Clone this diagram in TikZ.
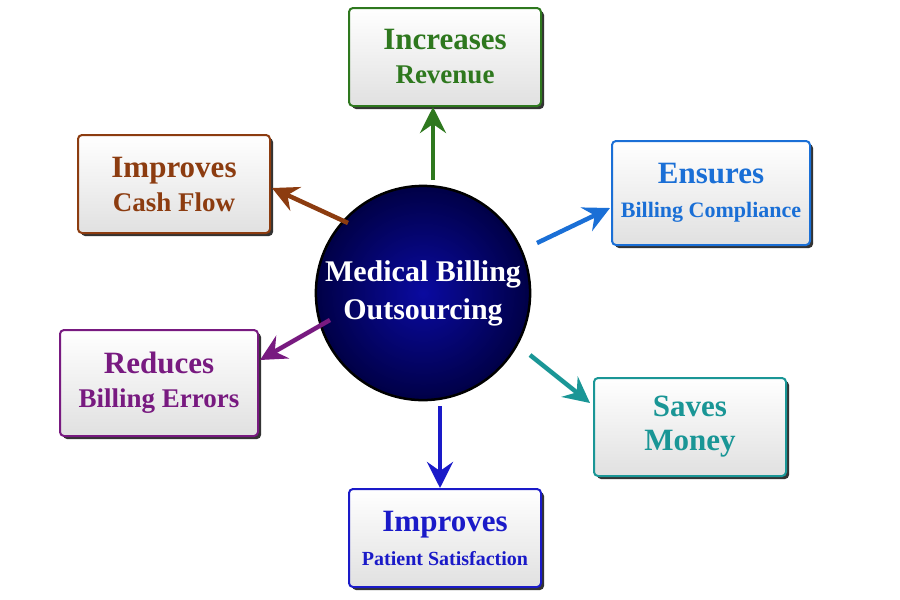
\documentclass[tikz,border=0pt]{standalone}
\usepackage{fontspec}
\setmainfont{Liberation Serif}
\usetikzlibrary{arrows.meta,shadows}
\definecolor{cg}{RGB}{46,120,30}
\definecolor{cbr}{RGB}{140,60,16}
\definecolor{cbl}{RGB}{26,111,214}
\definecolor{ct}{RGB}{26,150,150}
\definecolor{cb2}{RGB}{26,26,200}
\definecolor{cp}{RGB}{120,26,128}
\tikzset{
 box/.style={draw=#1, line width=2pt, rounded corners=4pt, minimum width=192pt, minimum height=98pt,
   top color=white, bottom color=black!12, text=#1, align=center, font=\bfseries\fontsize{31}{34}\selectfont,
   drop shadow={shadow xshift=3pt, shadow yshift=-3pt, fill=black!80, opacity=1}},
 arr/.style={draw=#1, line width=4.5pt, -{Stealth[length=26pt,width=26pt,inset=9pt]}}
}
\begin{document}
\begin{tikzpicture}[x=1pt,y=-1pt]
\useasboundingbox (0,0) rectangle (900,600);
\node[circle, minimum size=212pt, draw=black, line width=2.5pt, shading=radial,
  inner color={rgb,255:red,10;green,10;blue,160}, outer color={rgb,255:red,0;green,0;blue,70},
  text=white, align=center, font=\bfseries\fontsize{30}{38}\selectfont] (c) at (423,293) {Medical Billing\\Outsourcing};
\node[box=cg] (a) at (445,57) {Increases\\{\fontsize{27}{30}\selectfont Revenue}};
\node[box=cbr] (b) at (174,184) {Improves\\{\fontsize{27}{34}\selectfont Cash Flow}};
\node[box=cbl, minimum width=198pt, minimum height=104pt] (d) at (711,193) {Ensures\\{\fontsize{22}{28}\selectfont Billing Compliance}};
\node[box=ct] (e) at (690,427) {Saves\\Money};
\node[box=cb2] (f) at (445,538) {Improves\\{\fontsize{20}{30}\selectfont Patient Satisfaction}};
\node[box=cp, minimum width=198pt, minimum height=106pt] (g) at (159,383) {Reduces\\{\fontsize{27}{34}\selectfont Billing Errors}};
\draw[arr=cg] (433,180) -- (a.south -| 433,0);
\draw[arr=cbr] (348,223) -- (272,188);
\draw[arr=cbl] (537,243) -- (610,208);
\draw[arr=ct] (530,355) -- (590,403);
\draw[arr=cb2] (440,406) -- (f.north -| 440,0);
\draw[arr=cp] (330,320) -- (260,360);
\end{tikzpicture}
\end{document}
